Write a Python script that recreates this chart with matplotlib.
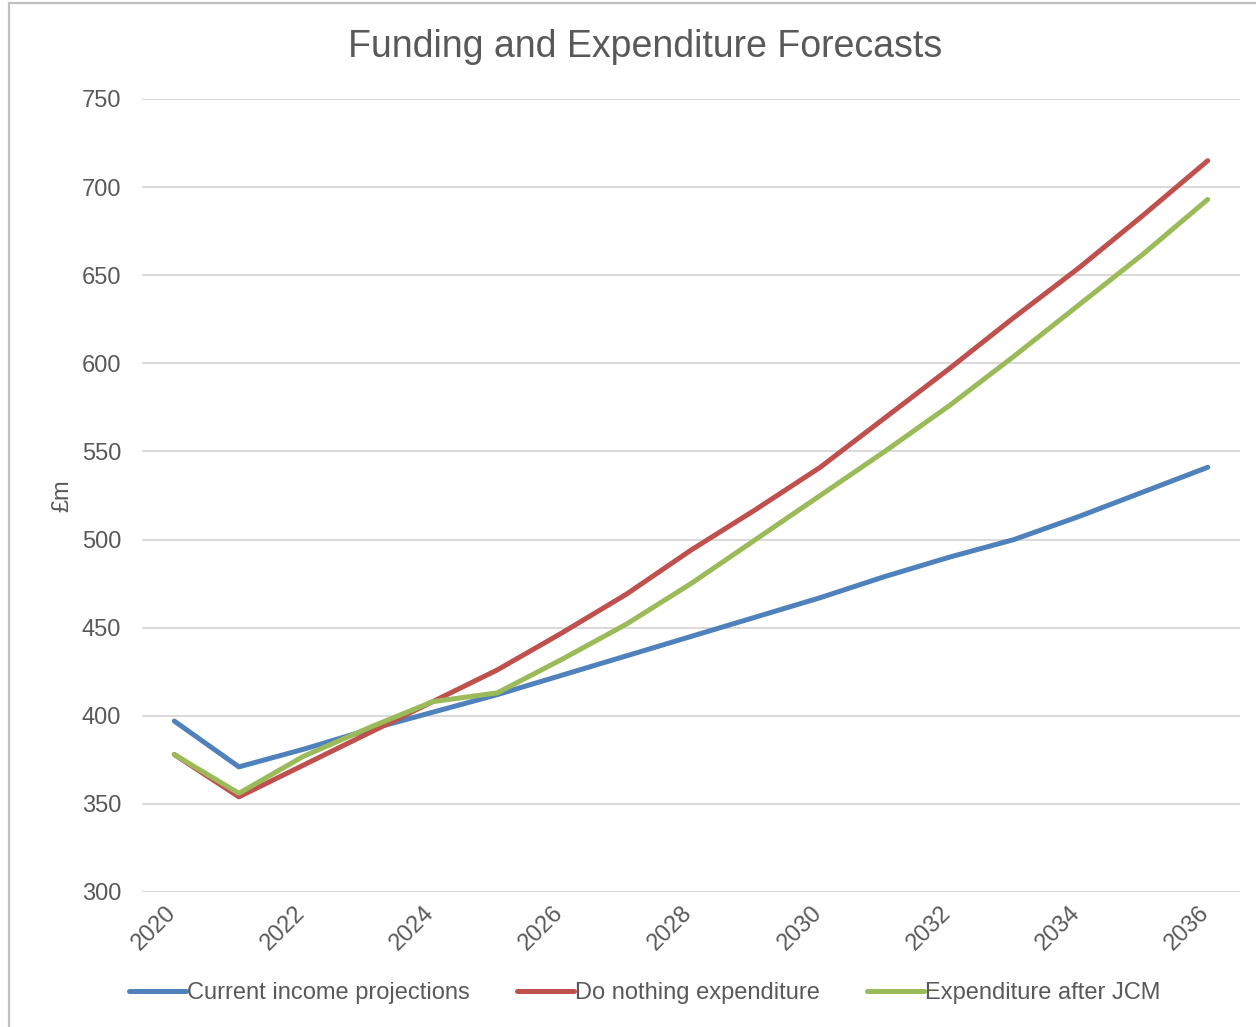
import matplotlib.pyplot as plt
import matplotlib.transforms as mtransforms
from matplotlib.patches import Rectangle

plt.rcParams['font.family'] = ['Liberation Sans', 'DejaVu Sans']

years = list(range(2020, 2037))
income = [397, 371, 381, 392, 402, 412, 423, 434, 445, 456, 467, 479, 490, 500, 513, 527, 541]
do_nothing = [378, 354, 372, 390, 408, 426, 447, 469, 494, 517, 541, 569, 597, 626, 654, 684, 715]
after_jcm = [378, 356, 377, 393, 408, 413, 432, 452, 475, 500, 525, 550, 576, 604, 633, 662, 693]

series = [
    ("Current income projections", income, "#4F81BD"),
    ("Do nothing expenditure", do_nothing, "#C0504D"),
    ("Expenditure after JCM", after_jcm, "#9BBB59"),
]

fig = plt.figure(figsize=(12.56, 10.27), dpi=100)
ax = fig.add_axes([142 / 1256, 135 / 1027, 1098 / 1256, 793 / 1027])

# chart area frame
fig.patches.append(Rectangle((9 / 1256, -0.05), 1.2, (1027 - 3) / 1027 + 0.05,
                             transform=fig.transFigure, fill=False,
                             edgecolor="#BFBFBF", linewidth=1.6))

x = range(len(years))
for label, vals, col in series:
    ax.plot(x, vals, color=col, linewidth=3.6, label=label,
            solid_capstyle="round", solid_joinstyle="round")

ax.set_xlim(-0.5, len(years) - 0.5)
ax.set_ylim(300, 750)
ax.set_yticks(range(300, 751, 50))
ax.set_xticks(list(x)[::2])
ax.set_xticklabels([str(y) for y in years[::2]], rotation=45, ha="right",
                   va="top")

ax.grid(axis="y", color="#D9D9D9", linewidth=1.4)
ax.set_axisbelow(True)
for s in ax.spines.values():
    s.set_visible(False)
ax.tick_params(axis="both", length=0, labelsize=17, colors="#595959")
ax.tick_params(axis="y", pad=15)
ax.tick_params(axis="x", pad=7)

# nudge the slanted year labels so their corner sits on the tick
shift = mtransforms.ScaledTranslation(6 / 100, 0, fig.dpi_scale_trans)
for lbl in ax.get_xticklabels():
    lbl.set_transform(lbl.get_transform() + shift)

ax.set_ylabel("£m", fontsize=17, color="#595959", labelpad=6)
fig.text(645 / 1256, 1 - 47 / 1027, "Funding and Expenditure Forecasts",
         ha="center", va="center", fontsize=27, color="#595959")

fig.legend(loc="center", bbox_to_anchor=(645 / 1256, 1 - 993 / 1027), ncol=3,
           frameon=False, fontsize=17, handlelength=2.4, handletextpad=0.05,
           columnspacing=2.0, labelcolor="#595959")

fig.savefig("out.png", dpi=100)
